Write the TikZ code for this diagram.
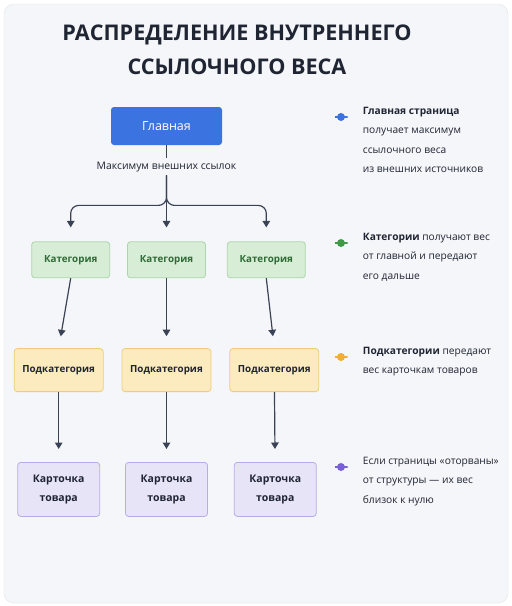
\documentclass[tikz,border=0pt]{standalone}
\usepackage{fontspec}
\setmainfont{Open Sans}
\usetikzlibrary{arrows.meta,positioning}

\definecolor{mainblue}{HTML}{3B73E0}
\definecolor{catfill}{HTML}{D7EDD6}
\definecolor{catdraw}{HTML}{ACD5AB}
\definecolor{cattext}{HTML}{2E6B35}
\definecolor{subfill}{HTML}{FCEBBE}
\definecolor{subdraw}{HTML}{F0CD7C}
\definecolor{prodfill}{HTML}{E8E4F8}
\definecolor{proddraw}{HTML}{B8ACE6}
\definecolor{ink}{HTML}{1F2533}
\definecolor{linkgray}{HTML}{3A4355}
\definecolor{cardbg}{HTML}{F5F6F9}
\definecolor{cardline}{HTML}{E2E4EA}
\definecolor{dotgreen}{HTML}{3E9A47}
\definecolor{dotorange}{HTML}{F2AE2E}
\definecolor{dotpurple}{HTML}{7A60D8}

\begin{document}
\begin{tikzpicture}[
  x=1pt, y=-1pt,
  font=\bfseries\fontsize{9.8}{13}\selectfont,
  box/.style={rounded corners=3pt, align=center, inner sep=2pt, text=ink,
    line width=0.8pt},
  mainpage/.style={box, fill=mainblue, text=white, minimum width=111pt,
    minimum height=38pt, font=\fontsize{12.5}{14}\selectfont},
  category/.style={box, fill=catfill, draw=catdraw, text=cattext,
    minimum width=78pt, minimum height=36pt},
  subcategory/.style={box, fill=subfill, draw=subdraw, minimum width=89pt,
    minimum height=43pt},
  product/.style={box, fill=prodfill, draw=proddraw, minimum width=82pt,
    minimum height=54pt, font=\bfseries\fontsize{10.5}{19}\selectfont},
  arrow/.style={-{Triangle[length=6.5pt,width=7.5pt]}, line width=1.2pt,
    draw=linkgray},
  legdot/.style={minimum width=13pt, minimum height=8pt, inner sep=0pt,
    path picture={
      \fill[#1] (path picture bounding box.center) circle (4pt);
      \draw[#1, line width=2pt] (path picture bounding box.west)
        -- (path picture bounding box.east);}},
  legtext/.style={align=left, inner sep=0pt, text=ink, anchor=north west,
    font=\mdseries\fontsize{10.2}{19.5}\selectfont}
]
  % background card
  \useasboundingbox[fill=white] (0,0) rectangle (512,606);
  \draw[draw=cardline, fill=cardbg, rounded corners=10pt] (4,4) rectangle (508,603);

  \node[align=center, text=ink, font=\bfseries\fontsize{21.6}{34}\selectfont] (title)
    at (237,50) {РАСПРЕДЕЛЕНИЕ ВНУТРЕННЕГО\\ССЫЛОЧНОГО ВЕСА};

  % tree
  \node[mainpage] (main) at (166.5,126) {Главная};
  \node[text=ink, font=\fontsize{10.4}{12}\selectfont, below=13pt of main] (extlinks)
    {Максимум внешних ссылок};

  \node[category, below=96pt of main] (catM) {Категория};
  \node[category, left=17pt of catM] (catL) {Категория};
  \node[category, right=21pt of catM] (catR) {Категория};

  \node[subcategory, below=70pt of catM] (subM) {Подкатегория};
  \node[subcategory, left=18pt of subM] (subL) {Подкатегория};
  \node[subcategory, right=18pt of subM] (subR) {Подкатегория};

  \node[product, below=70pt of subM] (prodM) {Карточка\\товара};
  \node[product, left=25pt of prodM] (prodL) {Карточка\\товара};
  \node[product, right=26pt of prodM] (prodR) {Карточка\\товара};

  \draw[line width=1.2pt, draw=linkgray] (main) -- (extlinks);
  \draw[arrow, rounded corners=8pt, shorten >=14pt] (extlinks.south) -- ++(0,30) -| (catL.north);
  \draw[arrow, rounded corners=8pt, shorten >=14pt] (extlinks.south) -- ++(0,30) -| (catR.north);
  \draw[arrow, shorten >=14pt] (extlinks.south) -- (catM.north);

  \draw[arrow, shorten >=12pt] (catL.south) -- (subL.north);
  \draw[arrow, shorten >=12pt] (catM.south) -- (subM.north);
  \draw[arrow, shorten >=12pt] (catR.south) -- (subR.north);

  \draw[arrow, shorten >=13pt] (subL) -- (prodL);
  \draw[arrow, shorten >=13pt] (subM) -- (prodM);
  \draw[arrow, shorten >=13pt] (subR) -- (prodR);

  % legend
  \node[legdot=mainblue] (dotMain) at (341,117) {};
  \node[legdot=dotgreen] (dotCat) at (341,243) {};
  \node[legdot=dotorange] (dotSub) at (341,357) {};
  \node[legdot=dotpurple] (dotProd) at (341,467) {};

  \node[legtext, right=15pt of dotMain, anchor=north west, yshift=10pt] (legMain)
    {{\bfseries Главная страница}\\получает максимум\\ссылочного веса\\из внешних источников};
  \node[legtext, right=15pt of dotCat, anchor=north west, yshift=10pt] (legCat)
    {{\bfseries Категории} получают вес\\от главной и передают\\его дальше};
  \node[legtext, right=15pt of dotSub, anchor=north west, yshift=10pt] (legSub)
    {{\bfseries Подкатегории} передают\\вес карточкам товаров};
  \node[legtext, right=15pt of dotProd, anchor=north west, yshift=10pt] (legProd)
    {Если страницы «оторваны»\\от структуры — их вес\\близок к нулю};
\end{tikzpicture}
\end{document}
